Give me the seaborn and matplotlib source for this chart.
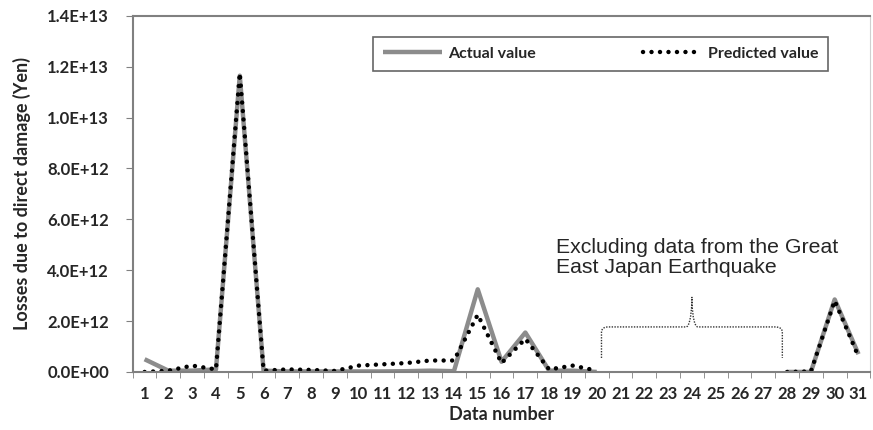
import numpy as np
import pandas as pd
import matplotlib.pyplot as plt
import matplotlib.ticker as mticker
from matplotlib.path import Path
from matplotlib.patches import PathPatch
import seaborn as sns

# data numbers 1..31; 21-27 are excluded (Great East Japan Earthquake)
data_number = list(range(1, 32))
actual = [0.50e12, 0.05e12, 0.05e12, 0.10e12, 11.65e12, 0.05e12, 0.02e12, 0.02e12,
          0.02e12, 0.02e12, 0.02e12, 0.03e12, 0.05e12, 0.03e12, 3.25e12, 0.40e12,
          1.55e12, 0.05e12, 0.05e12, 0.0,
          np.nan, np.nan, np.nan, np.nan, np.nan, np.nan, np.nan,
          0.0, 0.0, 2.85e12, 0.70e12]
predicted = [0.0, 0.05e12, 0.25e12, 0.10e12, 11.75e12, 0.05e12, 0.10e12, 0.08e12,
             0.04e12, 0.25e12, 0.30e12, 0.35e12, 0.45e12, 0.45e12, 2.25e12, 0.35e12,
             1.30e12, 0.10e12, 0.25e12, 0.05e12,
             np.nan, np.nan, np.nan, np.nan, np.nan, np.nan, np.nan,
             0.0, 0.02e12, 2.80e12, 0.60e12]
note_text = "Excluding data from the Great\nEast Japan Earthquake"

df = pd.DataFrame({"Data number": data_number, "Actual value": actual,
                   "Predicted value": predicted})
# segment id so the gap stays open
df["segment"] = (df["Data number"] > 27).astype(int)
df = df.dropna()

sns.set_style("ticks")
plt.rcParams["font.family"] = ["Lato", "DejaVu Sans"]

fig = plt.figure(figsize=(8.73, 4.30), dpi=100)
ax = fig.add_axes([0.152, 0.135, 0.845, 0.828])

sns.lineplot(data=df, x="Data number", y="Actual value", units="segment",
             estimator=None, color="#8c8c8c", linewidth=3.2,
             solid_capstyle="butt", ax=ax, label="Actual value")
sns.lineplot(data=df, x="Data number", y="Predicted value", units="segment",
             estimator=None, color="black", linewidth=3.2,
             linestyle=(0, (0.01, 1.9)), dash_capstyle="round",
             ax=ax, label="Predicted value")

ax.set_xlim(0.5, 31.5)
ax.set_ylim(0, 1.4e13)
ax.set_xticks(data_number)
ax.set_xticks(np.arange(0.5, 32, 1), minor=True)
ax.tick_params(axis="x", which="major", length=0, pad=10)
ax.tick_params(axis="x", which="minor", length=4, color="#808080")
ax.tick_params(axis="y", length=5, color="#808080", pad=12)
ax.yaxis.set_major_locator(mticker.MultipleLocator(2e12))
ax.yaxis.set_major_formatter(mticker.FuncFormatter(lambda v, p: f"{v:.1E}"))
for lab in ax.get_xticklabels() + ax.get_yticklabels():
    lab.set_fontweight("bold")
    lab.set_fontsize(12)

for side in ["left", "bottom", "top"]:
    ax.spines[side].set_color("#808080")
    ax.spines[side].set_linewidth(1.5)
ax.spines["right"].set_color("#d0d0d0")

ax.set_xlabel("Data number", fontsize=13, fontweight="bold", labelpad=3)
ax.set_ylabel("Losses due to direct damage (Yen)", fontsize=13,
              fontweight="bold", labelpad=12)

# one legend entry per series
handles, labels = ax.get_legend_handles_labels()
keep = {}
for h, l in zip(handles, labels):
    keep.setdefault(l, h)
leg = ax.legend(list(keep.values()), list(keep.keys()), ncol=2,
                loc="upper left", bbox_to_anchor=(0.326, 0.89, 0.617, 0.05),
                mode="expand", frameon=True, fancybox=False,
                edgecolor="#404040", prop={"weight": "bold", "size": 11.5},
                handlelength=3.7, borderpad=0.6, handletextpad=0.4,
                borderaxespad=0)
leg.get_frame().set_linewidth(1.2)

# note and dotted curly brace over the excluded range
ax.text(18.3, 4.5e12, note_text, fontsize=15.3, family="Liberation Sans",
        va="center", ha="left", linespacing=1.1)

x0, x1, xm = 20.2, 27.8, 24.0
yb, yh, yt = 0.55e12, 1.77e12, 2.95e12
verts = [(x0, yb), (x0, yh - 0.2e12), (x0, yh), (x0 + 0.3, yh),
         (xm - 0.25, yh), (xm - 0.05, yh), (xm, yt - 0.2e12), (xm, yt),
         (xm, yt - 0.2e12), (xm + 0.05, yh), (xm + 0.25, yh),
         (x1 - 0.3, yh), (x1, yh), (x1, yh - 0.2e12), (x1, yb)]
codes = [Path.MOVETO, Path.LINETO, Path.CURVE3, Path.CURVE3,
         Path.LINETO, Path.CURVE3, Path.CURVE3, Path.LINETO,
         Path.LINETO, Path.CURVE3, Path.CURVE3,
         Path.LINETO, Path.CURVE3, Path.CURVE3, Path.LINETO]
ax.add_patch(PathPatch(Path(verts, codes), facecolor="none", edgecolor="#333333",
                       linewidth=1.0, linestyle=(0, (1, 1))))

fig.savefig("out.png", dpi=100)
